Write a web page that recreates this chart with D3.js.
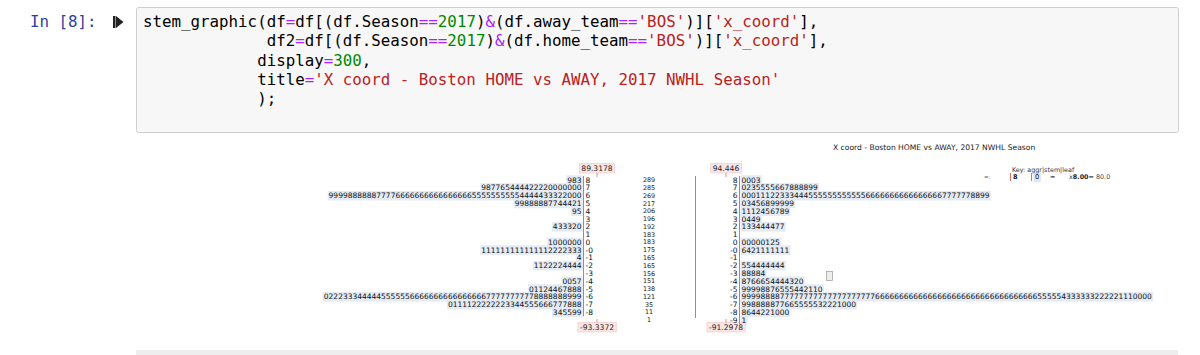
<!DOCTYPE html>
<html><head><meta charset="utf-8">
<script src="https://cdn.jsdelivr.net/npm/d3@7"></script>
<style>body{margin:0;background:#fff} svg{display:block} text{white-space:pre}</style>
</head><body>
<svg id="c" width="1200" height="355"></svg>
<script>
// ---- data ----
const promptLabel = "In [8]:";
const codeLines = [
  "stem_graphic(df=df[(df.Season==2017)&(df.away_team=='BOS')]['x_coord'],",
  "             df2=df[(df.Season==2017)&(df.home_team=='BOS')]['x_coord'],",
  "            display=300,",
  "            title='X coord - Boston HOME vs AWAY, 2017 NWHL Season'",
  "            );"
];
const chartTitle = "X coord - Boston HOME vs AWAY, 2017 NWHL Season";
const stems = ["8","7","6","5","4","3","2","1","0","-0","-1","-2","-3","-4","-5","-6","-7","-8","-9"];
const leftStems = ["8","7","6","5","4","3","2","1","0","-0","-1","-2","-3","-4","-5","-6","-7","-8"];
const leftLeaves = [
  "983",
  "987765444422220000000",
  "99998888887777666666666666666655555555554444433322000",
  "99888887744421",
  "95",
  "",
  "433320",
  "",
  "1000000",
  "111111111111112222333",
  "4",
  "1122224444",
  "",
  "0057",
  "01124467888",
  "022233344444555555666666666666666677777777778888888999",
  "0111122222223344555666777888",
  "345599"
];
const rightStems = stems;
const rightLeaves = [
  "0003",
  "0235555667888899",
  "0001112233344455555555555566666666666666667777778899",
  "03456899999",
  "1112456789",
  "0449",
  "133444477",
  "",
  "00000125",
  "6421111111",
  "",
  "554444444",
  "88884",
  "8766654444320",
  "99998876555442110",
  "99998888777777777777777777776666666666666666666666666666666666555554333333222221110000",
  "998888877665555532221000",
  "8644221000",
  "1"
];
const aggregates = [289,285,269,217,206,196,192,183,183,175,165,165,156,151,138,121,35,11,1];
const leftMax = "89.3178", leftMin = "-93.3372";
const rightMax = "94.446", rightMin = "-91.2978";
const keyTitle = "Key: aggr|stem|leaf";
const keyStem = "8", keyLeaf = "0", keyScale = "8.00", keyValue = "= 80.0";

// ---- drawing ----
const svg = d3.select("#c");
const mono = "'DejaVu Sans Mono', monospace";
const sans = "'DejaVu Sans', sans-serif";

// prompt & run icon
svg.append("text").attr("x", 30).attr("y", 27).attr("font-family", mono).attr("font-size", 15.8)
  .attr("fill", "#303F9F").text(promptLabel);
svg.append("path").attr("d", "M113,16 h2.5 v12 h-2.5 Z M116,16 L123.5,22 L116,28 Z").attr("fill", "#222");

// code cell
svg.append("rect").attr("x", 136.5).attr("y", 7.5).attr("width", 1042).attr("height", 125)
  .attr("rx", 2).attr("fill", "#f7f7f7").attr("stroke", "#cfcfcf");
const tokRe = /('[^']*'|==|=|&|\b\d+\b)/;
const tokColor = t => t.startsWith("'") ? "#BA2121" : (/^\d+$/.test(t) ? "#008800" : (/^(==|=|&)$/.test(t) ? "#AA22FF" : "#000"));
const lineY = d3.scaleLinear().domain([0, 4]).range([27, 104]);
codeLines.forEach((ln, i) => {
  const t = svg.append("text").attr("x", 143).attr("y", lineY(i)).attr("font-family", mono)
    .attr("font-size", 15.8).attr("xml:space", "preserve");
  ln.split(tokRe).filter(s => s.length).forEach(s => t.append("tspan").attr("fill", tokColor(s)).text(s));
});

// chart title
svg.append("text").attr("x", 833).attr("y", 150).attr("font-family", sans).attr("font-size", 7.6)
  .attr("fill", "#222").text(chartTitle);

// row scale
const y = d3.scalePoint().domain(stems).range([180, 320]);
const fs = 7.5;
const red = "#e07070";
const bgG = svg.append("g");
const txG = svg.append("g");

function boxed(sel, fill, stroke, pad) {
  sel.each(function() {
    const b = this.getBBox();
    if (b.width === 0) return;
    bgG.append("rect").attr("x", b.x - pad).attr("y", b.y - 0.3).attr("width", b.width + 2 * pad)
      .attr("height", b.height + 0.6).attr("fill", fill).attr("stroke", stroke || "none").attr("stroke-width", 0.6);
  });
}

// left panel
const xL = { leafEnd: 581.5, line: 583.5, stem: 585.5, label: 597 };
txG.selectAll(".ll").data(leftStems).join("text")
  .attr("x", xL.leafEnd).attr("y", d => y(d)).attr("dy", "0.35em").attr("text-anchor", "end")
  .attr("font-family", sans).attr("font-size", fs).attr("fill", "#111")
  .text((d, i) => leftLeaves[i]).call(boxed, "#e4ebf4", null, 1);
txG.selectAll(".ls").data(leftStems).join("text")
  .attr("x", xL.stem).attr("y", d => y(d)).attr("dy", "0.35em")
  .attr("font-family", sans).attr("font-size", fs).attr("fill", "#111").text(d => d);
svg.append("line").attr("x1", xL.line).attr("x2", xL.line).attr("y1", y("8") - 4).attr("y2", y("-8") + 4)
  .attr("stroke", red).attr("stroke-width", 1);

// aggregates
txG.selectAll(".ag").data(aggregates).join("text")
  .attr("x", 649).attr("y", (d, i) => y(stems[i])).attr("dy", "0.35em").attr("text-anchor", "middle")
  .attr("font-family", sans).attr("font-size", 6.4).attr("fill", "#222").text(d => d);

// right panel
const xR = { mid: 695.5, stemEnd: 737.5, line: 739.5, leaf: 741.5, label: 726 };
svg.append("line").attr("x1", xR.mid).attr("x2", xR.mid).attr("y1", y("8") - 4).attr("y2", y("-9") - 2)
  .attr("stroke", red).attr("stroke-width", 1);
txG.selectAll(".rs").data(rightStems).join("text")
  .attr("x", xR.stemEnd).attr("y", d => y(d)).attr("dy", "0.35em").attr("text-anchor", "end")
  .attr("font-family", sans).attr("font-size", fs).attr("fill", "#111").text(d => d);
txG.selectAll(".rl").data(rightStems).join("text")
  .attr("x", xR.leaf).attr("y", d => y(d)).attr("dy", "0.35em")
  .attr("font-family", sans).attr("font-size", fs).attr("fill", "#111")
  .text((d, i) => rightLeaves[i]).call(boxed, "#e4ebf4", null, 1);
svg.append("line").attr("x1", xR.line).attr("x2", xR.line).attr("y1", y("8") - 4).attr("y2", y("-9") + 4)
  .attr("stroke", red).attr("stroke-width", 1);

// min / max labels
const labels = [
  { t: leftMax, x: xL.label, y: 168, tick: [173, 177] },
  { t: leftMin, x: xL.label, y: 327, tick: [319, 322.5] },
  { t: rightMax, x: xR.label, y: 168, tick: [173, 177] },
  { t: rightMin, x: xR.label, y: 327, tick: [319, 322.5] }
];
txG.selectAll(".lab").data(labels).join("text")
  .attr("x", d => d.x).attr("y", d => d.y).attr("dy", "0.35em").attr("text-anchor", "middle")
  .attr("font-family", sans).attr("font-size", 7.6).attr("fill", "#222").text(d => d.t)
  .call(boxed, "#fbe6e6", "#f2c4c4", 2);
svg.selectAll(".tk").data(labels).join("line")
  .attr("x1", d => d.x).attr("x2", d => d.x).attr("y1", d => d.tick[0]).attr("y2", d => d.tick[1])
  .attr("stroke", red).attr("stroke-width", 0.8);

// stray marker
svg.append("rect").attr("x", 826.5).attr("y", 271.5).attr("width", 6).attr("height", 9)
  .attr("fill", "#eeeeee").attr("stroke", "#999").attr("stroke-width", 0.7);

// key
svg.append("text").attr("x", 1012).attr("y", 172).attr("font-family", sans).attr("font-size", 6.4)
  .attr("fill", "#333").text(keyTitle);
const kY = 179;
svg.append("text").attr("x", 984).attr("y", kY).attr("font-family", sans).attr("font-size", 5.5).attr("fill", "#555").text("=:");
svg.append("line").attr("x1", 1010.5).attr("x2", 1010.5).attr("y1", 173).attr("y2", 181).attr("stroke", red);
svg.append("text").attr("x", 1013).attr("y", kY).attr("font-family", sans).attr("font-size", 6.6).attr("font-weight", "bold").attr("fill", "#111").text(keyStem);
svg.append("line").attr("x1", 1031.5).attr("x2", 1031.5).attr("y1", 173).attr("y2", 181).attr("stroke", red);
txG.append("text").attr("x", 1035).attr("y", kY).attr("font-family", sans).attr("font-size", 6.6).attr("fill", "#111").text(keyLeaf)
  .call(boxed, "#dfe8f3", "#c8d6e8", 1);
svg.append("text").attr("x", 1050).attr("y", kY).attr("font-family", sans).attr("font-size", 6.4).attr("fill", "#444").text("=");
const kt = svg.append("text").attr("x", 1069).attr("y", kY).attr("font-family", sans).attr("font-size", 6.4).attr("fill", "#444");
kt.append("tspan").text("x");
kt.append("tspan").attr("font-weight", "bold").attr("fill", "#222").text(keyScale);
kt.append("tspan").text(keyValue);

// next cell edge
svg.append("rect").attr("x", 136).attr("y", 350).attr("width", 1042).attr("height", 5).attr("fill", "#eeeeee");
</script>
</body></html>
